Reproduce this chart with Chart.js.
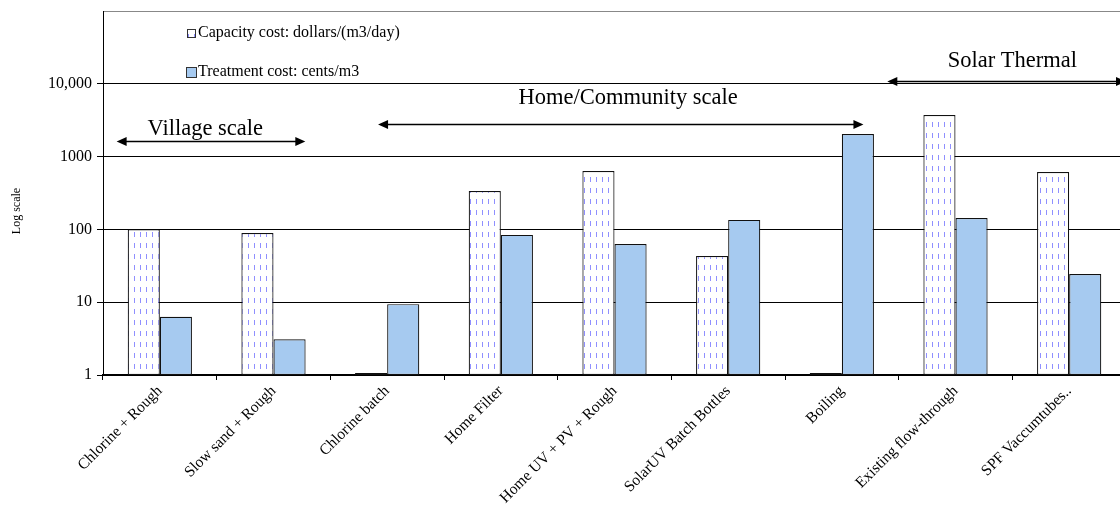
<!DOCTYPE html>
<html>
<head>
<meta charset="utf-8">
<script src="https://cdn.jsdelivr.net/npm/chart.js@4"></script>
<style>
  html, body { margin: 0; padding: 0; background: #fff; overflow: hidden; }
  canvas { display: block; }
</style>
</head>
<body>
<canvas id="costChart" width="1128" height="511"></canvas>
<script>
// ===============================
// data
// ===============================
const categories = [
    "Chlorine + Rough", "Slow sand + Rough", "Chlorine batch", "Home Filter",
    "Home UV + PV + Rough", "SolarUV Batch Bottles", "Boiling",
    "Existing flow-through", "SPF Vaccumtubes.."
];
const capacityCost = [100, 89, 1, 337, 634, 43, 1, 3730, 614];     // dollars/(m3/day)
const treatmentCost = [6.3, 3.1, 9.4, 84, 63, 135, 2040, 143, 24.4]; // cents/m3
const seriesNames = ["Capacity cost: dollars/(m3/day)", "Treatment cost: cents/m3"];
const yTicks = [1, 10, 100, 1000, 10000, 100000];

// scale notes: arrows spanning category positions, heights in axis units
const scaleNotes = [
    { text: "Village scale", from: -0.38, to: 1.28, arrowAt: 1640, textX: 0.4, textAt: 2350 },
    { text: "Home/Community scale", from: 1.92, to: 6.19, arrowAt: 2800, textX: 4.12, textAt: 6300 },
    { text: "Solar Thermal", from: 6.4, to: 8.5, arrowAt: 10900, textX: 7.5, textAt: 20300 }
];

const serif = '"Liberation Serif", "Times New Roman", serif';
const blueFill = "#a6caf0";

// dashed white fill for capacity bars
function makeDashPattern() {
    const c = document.createElement("canvas");
    c.width = 6; c.height = 11;
    const g = c.getContext("2d");
    g.fillStyle = "#fff";
    g.fillRect(0, 0, 6, 11);
    g.fillStyle = "#8f8fff";
    g.fillRect(2, 1, 1, 5);
    return g.createPattern(c, "repeat");
}
const dashFill = makeDashPattern();

// ===============================
// extras: legend, notes, axis title
// ===============================
function drawArrowHead(ctx, x, y, dir) {
    ctx.beginPath();
    ctx.moveTo(x, y);
    ctx.lineTo(x - dir * 10, y - 4.5);
    ctx.lineTo(x - dir * 10, y + 4.5);
    ctx.closePath();
    ctx.fill();
}

const extras = {
    id: "extras",
    afterDraw(chart) {
        const ctx = chart.ctx;
        const xs = chart.scales.x, ys = chart.scales.y;
        ctx.save();

        // legend
        ctx.font = "16px " + serif;
        ctx.textBaseline = "middle";
        ctx.fillStyle = dashFill;
        ctx.fillRect(187, 29, 8, 8);
        ctx.strokeStyle = "#333";
        ctx.lineWidth = 1;
        ctx.strokeRect(187.5, 29.5, 8, 8);
        ctx.fillStyle = blueFill;
        ctx.fillRect(186, 67, 10, 10);
        ctx.strokeRect(186.5, 67.5, 10, 10);
        ctx.fillStyle = "#000";
        ctx.fillText(seriesNames[0], 198, 33);
        ctx.fillText(seriesNames[1], 198, 72);

        // scale notes
        ctx.font = "22.5px " + serif;
        ctx.textAlign = "center";
        ctx.lineWidth = 1.5;
        ctx.strokeStyle = "#000";
        scaleNotes.forEach(n => {
            const x1 = xs.getPixelForValue(n.from);
            const x2 = xs.getPixelForValue(n.to);
            const y = Math.round(ys.getPixelForValue(n.arrowAt)) + 0.5;
            ctx.beginPath();
            ctx.moveTo(x1 + 8, y);
            ctx.lineTo(x2 - 8, y);
            ctx.stroke();
            drawArrowHead(ctx, x1, y, -1);
            drawArrowHead(ctx, x2, y, 1);
            ctx.fillText(n.text, xs.getPixelForValue(n.textX), ys.getPixelForValue(n.textAt));
        });

        // y axis title
        ctx.font = "12px " + serif;
        ctx.translate(17, 211);
        ctx.rotate(-Math.PI / 2);
        ctx.fillText("Log scale", 0, 0);
        ctx.restore();
    }
};

// ===============================
// chart
// ===============================
new Chart(document.getElementById("costChart"), {
    type: "bar",
    data: {
        labels: categories,
        datasets: [{
            label: seriesNames[0],
            data: capacityCost,
            backgroundColor: dashFill,
            borderColor: "#111",
            borderWidth: 1.2,
            borderSkipped: false,
            minBarLength: 2
        }, {
            label: seriesNames[1],
            data: treatmentCost,
            backgroundColor: blueFill,
            borderColor: "#111",
            borderWidth: 1.2,
            borderSkipped: false
        }]
    },
    options: {
        responsive: false,
        animation: false,
        devicePixelRatio: 1,
        layout: { padding: { top: 11, right: 2, left: 0, bottom: 0 } },
        datasets: { bar: { categoryPercentage: 0.565, barPercentage: 1 } },
        plugins: { legend: { display: false }, tooltip: { enabled: false } },
        font: { family: serif },
        scales: {
            x: {
                grid: { display: true, drawOnChartArea: false, offset: true, color: "#000", tickLength: 5 },
                border: { display: true, color: "#000", width: 1.5 },
                ticks: {
                    autoSkip: false, maxRotation: 45, minRotation: 45, padding: 2,
                    color: "#000", font: { family: serif, size: 15.5 }
                },
                afterFit: s => { s.height = 136; }
            },
            y: {
                type: "logarithmic",
                min: 1,
                max: 100000,
                afterBuildTicks: s => { s.ticks = yTicks.map(v => ({ value: v })); },
                ticks: {
                    padding: 5,
                    color: "#000",
                    font: { family: serif, size: 16 },
                    callback: v => v === 100000 ? "" : (v === 10000 ? "10,000" : String(v))
                },
                grid: {
                    color: c => c.tick && c.tick.value === 100000 ? "#888" : "#000",
                    tickColor: c => c.tick && c.tick.value === 100000 ? "rgba(0,0,0,0)" : "#000",
                    tickLength: 6,
                    lineWidth: 1
                },
                border: { display: true, color: "#000", width: 1 },
                afterFit: s => { s.width = 103; s.paddingTop = 0; s.paddingBottom = 0; }
            }
        }
    },
    plugins: [extras]
});
</script>
</body>
</html>
